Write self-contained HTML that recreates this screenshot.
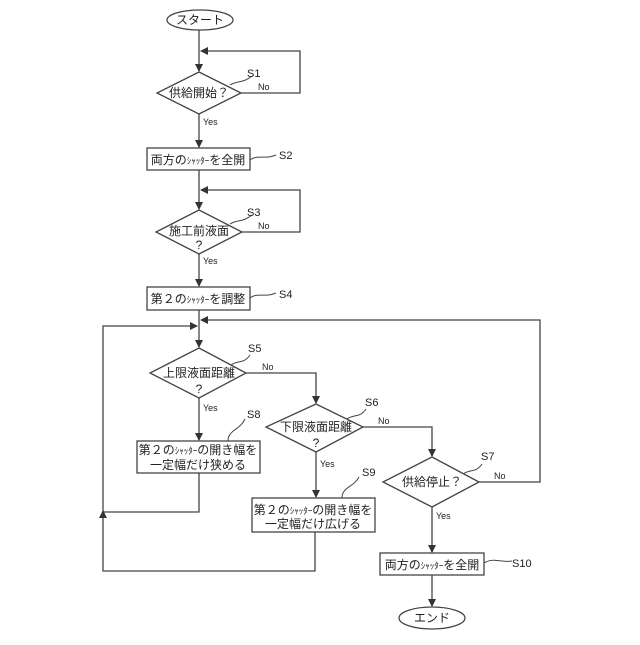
<!DOCTYPE html>
<html><head><meta charset="utf-8"><style>
html,body{margin:0;padding:0;background:#fff}
svg text{font-family:"Liberation Sans","Noto Sans CJK JP",sans-serif;fill:#222}
</style></head><body>
<svg width="640" height="640" viewBox="0 0 640 640" xmlns="http://www.w3.org/2000/svg">
<defs><marker id="a" markerWidth="8" markerHeight="8" refX="7" refY="4" orient="auto" markerUnits="userSpaceOnUse"><path d="M0,0 L8,4 L0,8 z" fill="#333"/></marker></defs>
<g stroke="#444" stroke-width="1.3" fill="none">
<ellipse cx="200" cy="20" rx="33" ry="10" fill="#fff"/>
<line x1="199" y1="30" x2="199" y2="71" marker-end="url(#a)"/>
<polyline points="241,93 300,93 300,51 201,51" marker-end="url(#a)"/>
<polygon points="199,72 241,93 199,114 157,93" fill="#fff"/>
<line x1="199" y1="114" x2="199" y2="147" marker-end="url(#a)"/>
<rect x="147" y="148" width="103" height="22" fill="#fff"/>
<line x1="199" y1="170" x2="199" y2="209" marker-end="url(#a)"/>
<polyline points="242,232 300,232 300,190 201,190" marker-end="url(#a)"/>
<polygon points="199,210 242,232 199,254 156,232" fill="#fff"/>
<line x1="199" y1="254" x2="199" y2="286" marker-end="url(#a)"/>
<rect x="147" y="287" width="103" height="23" fill="#fff"/>
<line x1="199" y1="310" x2="199" y2="347" marker-end="url(#a)"/>
<polyline points="479,482 540,482 540,320 201,320" marker-end="url(#a)"/>
<polyline points="199,473 199,512 103,512 103,326 197,326" marker-end="url(#a)"/>
<polyline points="315,532 315,571 103,571 103,511" marker-end="url(#a)"/>
<polygon points="199,348 246,373 199,398 150,373" fill="#fff"/>
<polyline points="246,373 316,373 316,403" marker-end="url(#a)"/>
<line x1="199" y1="398" x2="199" y2="440" marker-end="url(#a)"/>
<rect x="137" y="441" width="123" height="32" fill="#fff"/>
<polygon points="316,404 363,427 316,452 266,427" fill="#fff"/>
<polyline points="363,427 432,427 432,456" marker-end="url(#a)"/>
<line x1="316" y1="452" x2="316" y2="497" marker-end="url(#a)"/>
<rect x="252" y="498" width="123" height="34" fill="#fff"/>
<polygon points="432,457 479,482 432,507 383,482" fill="#fff"/>
<line x1="432" y1="507" x2="432" y2="552" marker-end="url(#a)"/>
<rect x="380" y="553" width="104" height="22" fill="#fff"/>
<line x1="432" y1="575" x2="432" y2="606" marker-end="url(#a)"/>
<ellipse cx="432" cy="618" rx="33" ry="11" fill="#fff"/>
<g stroke-width="1">
<path d="M230,85 C238,80 242,84 252,76"/>
<path d="M250,160 C258,154 264,160 276,155"/>
<path d="M230,224 C238,219 242,223 252,215"/>
<path d="M250,298 C258,292 264,298 276,293"/>
<path d="M231,365 C238,360 244,364 250,355"/>
<path d="M347,419 C354,414 360,418 366,409"/>
<path d="M463,474 C470,469 476,473 482,464"/>
<path d="M228,441 C228,430 240,430 245,419"/>
<path d="M342,498 C342,487 354,487 359,477"/>
<path d="M484,563 C494,557 500,563 512,561"/>
</g>
</g>
<g font-size="12" text-anchor="middle">
<text x="200" y="24">スタート</text>
<text x="199" y="97">供給開始？</text>
<text x="198" y="164">両方の<tspan font-size="9">ｼｬｯﾀｰ</tspan>を全開</text>
<text x="199" y="235">施工前液面</text>
<text x="199" y="249">?</text>
<text x="198" y="303">第２の<tspan font-size="9">ｼｬｯﾀｰ</tspan>を調整</text>
<text x="199" y="377">上限液面距離</text>
<text x="199" y="393">?</text>
<text x="316" y="431">下限液面距離</text>
<text x="316" y="447">?</text>
<text x="432" y="486">供給停止？</text>
<text x="198" y="454">第２の<tspan font-size="9">ｼｬｯﾀｰ</tspan>の開き幅を</text>
<text x="198" y="469">一定幅だけ狭める</text>
<text x="313" y="514">第２の<tspan font-size="9">ｼｬｯﾀｰ</tspan>の開き幅を</text>
<text x="313" y="528">一定幅だけ広げる</text>
<text x="432" y="569">両方の<tspan font-size="9">ｼｬｯﾀｰ</tspan>を全開</text>
<text x="432" y="622">エンド</text>
</g>
<g font-size="11">
<text x="247" y="77">S1</text><text x="258" y="90" font-size="9">No</text>
<text x="203" y="125" font-size="9">Yes</text>
<text x="279" y="159">S2</text>
<text x="247" y="216">S3</text><text x="258" y="229" font-size="9">No</text>
<text x="203" y="264" font-size="9">Yes</text>
<text x="279" y="298">S4</text>
<text x="248" y="352">S5</text><text x="262" y="370" font-size="9">No</text>
<text x="203" y="411" font-size="9">Yes</text>
<text x="247" y="418">S8</text>
<text x="365" y="406">S6</text><text x="378" y="424" font-size="9">No</text>
<text x="320" y="467" font-size="9">Yes</text>
<text x="362" y="476">S9</text>
<text x="481" y="460">S7</text><text x="494" y="479" font-size="9">No</text>
<text x="436" y="519" font-size="9">Yes</text>
<text x="512" y="567">S10</text>
</g>
</svg>
</body></html>
